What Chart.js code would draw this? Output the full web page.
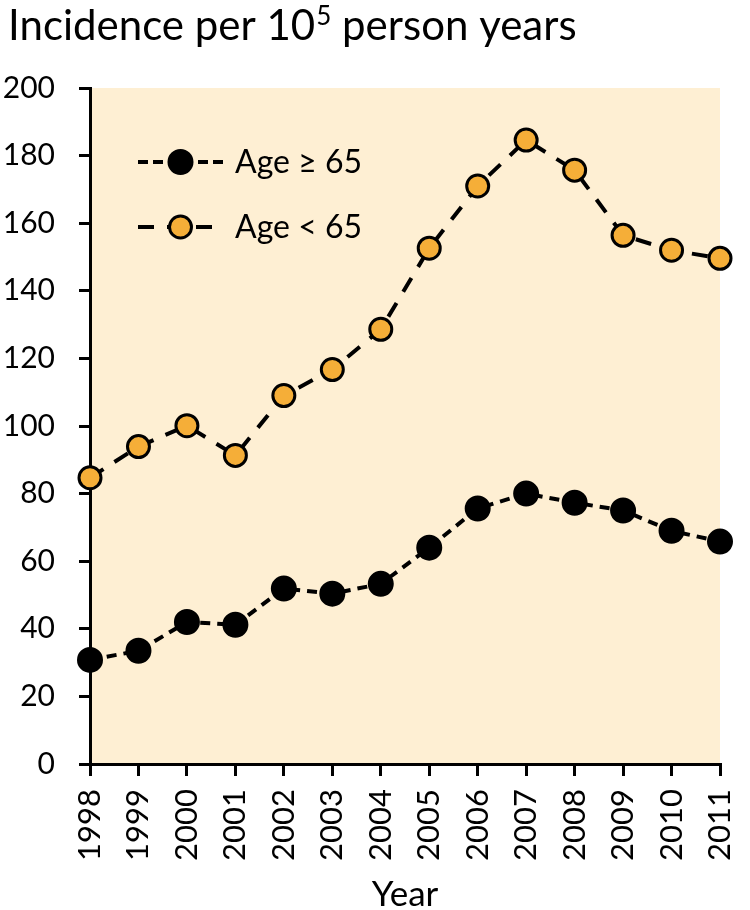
<!DOCTYPE html>
<html>
<head>
<meta charset="utf-8">
<script src="https://cdn.jsdelivr.net/npm/chart.js@4.4.1/dist/chart.umd.min.js"></script>
<style>
  html, body { margin: 0; padding: 0; background: #ffffff; }
  #wrap { width: 750px; height: 910px; position: relative; }
</style>
</head>
<body>
<div id="wrap"><canvas id="c" width="750" height="910"></canvas></div>
<script>
// ---- Data ----
const years = ["1998","1999","2000","2001","2002","2003","2004","2005","2006","2007","2008","2009","2010","2011"];
const ageOver65 = [30.8, 33.5, 42.0, 41.2, 51.9, 50.4, 53.3, 64.0, 75.6, 80.0, 77.3, 75.0, 69.0, 65.8];
const ageUnder65 = [84.7, 93.9, 100.1, 91.3, 109.0, 116.7, 128.6, 152.6, 171.0, 184.6, 175.7, 156.4, 152.0, 149.6];
const seriesNames = ["Age \u2265 65", "Age < 65"];
const yTicks = [0, 20, 40, 60, 80, 100, 120, 140, 160, 180, 200];
const titleMain = "Incidence per 10";
const titleSup = "5";
const titleRest = " person years";
const xTitle = "Year";

const FONT = "Lato, 'Open Sans', sans-serif";
const BG = "#FEEFD3";
const ORANGE = "#F5AE38";

const bgPlugin = {
  id: 'bg',
  beforeDraw(chart) {
    const { ctx, chartArea: a } = chart;
    ctx.save();
    ctx.fillStyle = BG;
    ctx.fillRect(a.left, a.top, a.right - a.left, a.bottom - a.top);
    ctx.restore();
  }
};

const titlePlugin = {
  id: 'topTitle',
  afterDraw(chart) {
    const ctx = chart.ctx;
    ctx.save();
    ctx.fillStyle = '#000';
    ctx.textBaseline = 'alphabetic';
    ctx.textAlign = 'left';
    let x = 8, y = 40;
    ctx.font = "42px " + FONT;
    ctx.fillText(titleMain, x, y);
    x += ctx.measureText(titleMain).width + 1;
    ctx.font = "26px " + FONT;
    ctx.fillText(titleSup, x, y - 15);
    x += ctx.measureText(titleSup).width;
    ctx.font = "42px " + FONT;
    ctx.fillText(titleRest, x, y);
    ctx.restore();
  }
};

const legendPlugin = {
  id: 'customLegend',
  afterDatasetsDraw(chart) {
    const ctx = chart.ctx;
    const a = chart.chartArea;
    const rows = [a.top + 74, a.top + 139];
    chart.data.datasets.forEach((ds, i) => {
      const y = rows[i];
      const x0 = a.left + 48, x1 = a.left + 133, xm = (x0 + x1) / 2;
      ctx.save();
      ctx.strokeStyle = ds.borderColor;
      ctx.lineWidth = ds.borderWidth;
      ctx.setLineDash(ds.legendDash);
      ctx.lineDashOffset = 0;
      ctx.beginPath();
      ctx.moveTo(x0, y); ctx.lineTo(x1, y);
      ctx.stroke();
      ctx.setLineDash([]);
      ctx.beginPath();
      ctx.arc(xm, y, ds.pointRadius, 0, Math.PI * 2);
      ctx.fillStyle = ds.pointBackgroundColor;
      ctx.fill();
      ctx.lineWidth = ds.pointBorderWidth;
      ctx.strokeStyle = ds.pointBorderColor;
      ctx.stroke();
      ctx.fillStyle = '#000';
      ctx.font = "32px " + FONT;
      ctx.textBaseline = 'middle';
      ctx.textAlign = 'left';
      ctx.fillText(ds.label, x1 + 12, y + 1);
      ctx.restore();
    });
  }
};

new Chart(document.getElementById('c'), {
  type: 'line',
  data: {
    labels: years,
    datasets: [
      {
        label: seriesNames[0],
        data: ageOver65,
        borderColor: '#000',
        borderWidth: 4,
        borderDash: [10, 7],
        legendDash: [10, 5],
        pointRadius: 12,
        pointBackgroundColor: '#000',
        pointBorderColor: '#000',
        pointBorderWidth: 2,
        tension: 0,
        fill: false
      },
      {
        label: seriesNames[1],
        data: ageUnder65,
        borderColor: '#000',
        borderWidth: 4,
        borderDash: [16, 13],
        legendDash: [16, 13],
        pointRadius: 11,
        pointBackgroundColor: ORANGE,
        pointBorderColor: '#000',
        pointBorderWidth: 3,
        tension: 0,
        fill: false
      }
    ]
  },
  options: {
    responsive: false,
    animation: false,
    devicePixelRatio: 1,
    layout: { padding: { left: 0, right: 30, top: 88, bottom: 0 } },
    plugins: { legend: { display: false }, tooltip: { enabled: false }, title: { display: false } },
    scales: {
      x: {
        type: 'category',
        offset: false,
        grid: { display: true, drawOnChartArea: false, drawTicks: true, tickLength: 12, color: '#000', lineWidth: 3, offset: false },
        border: { display: true, color: '#000', width: 3 },
        ticks: { color: '#000', font: { family: FONT, size: 31 }, minRotation: 90, maxRotation: 90, padding: 13, autoSkip: false },
        title: { display: true, text: xTitle, color: '#000', font: { family: FONT, size: 35 }, padding: { top: 0, bottom: -6 } },
        afterFit(scale) { scale.height = 146; scale.paddingLeft = 0; scale.paddingRight = 0; }
      },
      y: {
        min: 0, max: 200,
        afterBuildTicks(scale) { scale.ticks = yTicks.map(v => ({ value: v })); },
        grid: { display: true, drawOnChartArea: false, drawTicks: true, tickLength: 11, color: '#000', lineWidth: 3 },
        border: { display: true, color: '#000', width: 3 },
        ticks: { color: '#000', font: { family: FONT, size: 30 }, padding: 24 },
        afterFit(scale) { scale.width = 90; }
      }
    }
  },
  plugins: [bgPlugin, titlePlugin, legendPlugin]
});
</script>
</body>
</html>
